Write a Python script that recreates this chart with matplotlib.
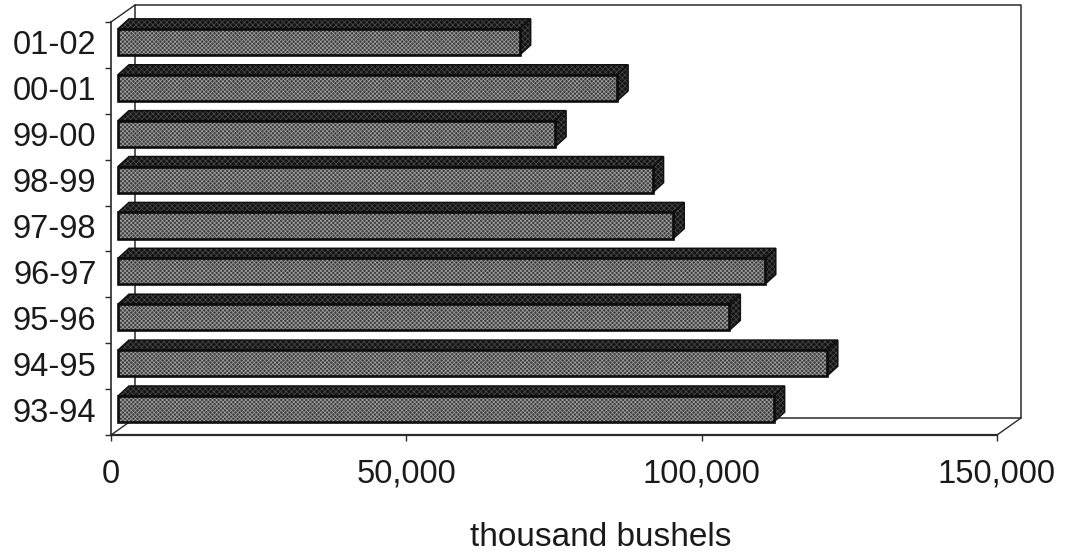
import matplotlib
matplotlib.use("Agg")
import matplotlib.pyplot as plt
from matplotlib.patches import Polygon
from matplotlib.transforms import Affine2D

seasons = ["93-94", "94-95", "95-96", "96-97", "97-98", "98-99", "99-00", "00-01", "01-02"]
bushels = [111000, 120000, 103500, 109500, 94000, 90500, 74000, 84500, 68000]
xticks = [0, 50000, 100000, 150000]
xticklabels = ["0", "50,000", "100,000", "150,000"]

W, H = 1065, 553
plt.rcParams["font.family"] = ["Liberation Sans", "DejaVu Sans"]
plt.rcParams["hatch.linewidth"] = 0.5

fig = plt.figure(figsize=(W / 100, H / 100), dpi=100, facecolor="white")
ax = fig.add_axes([111 / W, 1 - 435 / H, (997 - 111) / W, (435 - 22) / H])
ax.set_xlim(0, 150000)
ax.set_ylim(-0.5, 8.5)
ax.patch.set_visible(False)
for s in ax.spines.values():
    s.set_visible(False)

LINE = "#2a2a2a"
wall_dx, wall_dy = 24, 17    # depth of the plot box, px
bar_x0, bar_y0 = 7, 3        # bars sit slightly behind the front plane, px
bar_dx, bar_dy = 11, 10      # depth of each bar, px
bar_h = 0.57

base = ax.transData
back = base + Affine2D().translate(wall_dx, wall_dy)
front = base + Affine2D().translate(bar_x0, bar_y0)

# plot box: back wall, front-left edge, floor and connecting edges
xmin, xmax = 0, 150000
ymin, ymax = -0.5, 8.5
ax.plot([xmin, xmin, xmax, xmax, xmin], [ymin, ymax, ymax, ymin, ymin],
        color=LINE, lw=1.1, transform=back, clip_on=False, zorder=1)
ax.plot([xmin, xmin], [ymin, ymax], color=LINE, lw=1.2, clip_on=False, zorder=1)
ax.plot([xmin, xmax], [ymin, ymin], color=LINE, lw=1.6, clip_on=False, zorder=1)
for (vx, vy) in [(xmin, ymax), (xmin, ymin), (xmax, ymin)]:
    p0 = base.transform((vx, vy))
    p1 = back.transform((vx, vy))
    ax.plot([p0[0], p1[0]], [p0[1], p1[1]], color=LINE, lw=1.0,
            transform=None, clip_on=False, zorder=1)

# 3-D bars
for i, v in enumerate(bushels):
    y0, y1 = i - bar_h / 2, i + bar_h / 2
    pts = front.transform([(0, y1), (v, y1), (v, y0)])
    (xl, yt), (xr, _), (_, yb) = pts
    top_face = [(xl, yt), (xr, yt), (xr + bar_dx, yt + bar_dy), (xl + bar_dx, yt + bar_dy)]
    side_face = [(xr, yt), (xr + bar_dx, yt + bar_dy), (xr + bar_dx, yb + bar_dy), (xr, yb)]
    for poly, hatch_col in [(top_face, "#4e4e4e"), (side_face, "#4a4a4a")]:
        ax.add_patch(Polygon(poly, closed=True, facecolor="#141414", edgecolor=hatch_col,
                             hatch="xxxxxx", lw=0, transform=None, clip_on=False, zorder=3))
        ax.add_patch(Polygon(poly, closed=True, fill=False, edgecolor="#111111",
                             lw=1.1, transform=None, clip_on=False, zorder=3.1))
ax.barh(range(len(seasons)), bushels, height=bar_h, color="#3e3e3e", edgecolor="#a2a2a2",
        hatch="xxxxxxxx", lw=0, transform=front, zorder=4, clip_on=False)
ax.barh(range(len(seasons)), bushels, height=bar_h, fill=False, edgecolor="#0c0c0c",
        lw=1.9, transform=front, zorder=5, clip_on=False)

ax.set_xticks(xticks)
ax.set_xticklabels(xticklabels, fontsize=23.5, color="#1a1a1a")
ax.set_yticks(range(len(seasons)))
ax.set_yticklabels(seasons, fontsize=23.5, color="#1a1a1a")
ax.tick_params(axis="x", length=4, width=1, color=LINE, pad=13)
ax.tick_params(axis="y", length=0, pad=10.5)
for lab in ax.get_yticklabels():
    lab.set_transform(lab.get_transform() + Affine2D().translate(0, 2.5))
ax.set_yticks([i - 0.5 for i in range(len(seasons) + 1)], minor=True)
ax.tick_params(axis="y", which="minor", length=4, width=1, color=LINE)

fig.text(601 / W, 1 - 538 / H, "thousand bushels", fontsize=24, color="#1a1a1a",
         ha="center", va="center")

fig.savefig("out.png", dpi=100, facecolor="white")
